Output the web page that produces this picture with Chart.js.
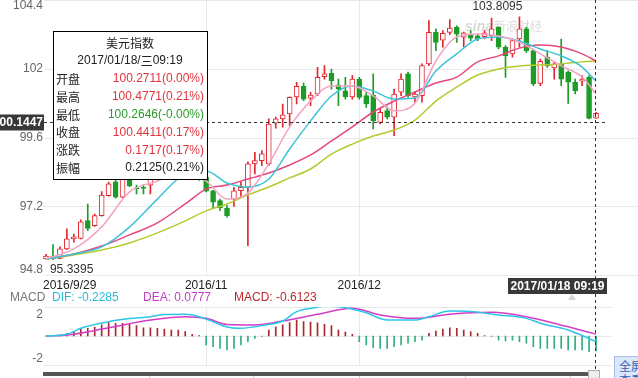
<!DOCTYPE html>
<html><head><meta charset="utf-8">
<script src="https://cdn.jsdelivr.net/npm/chart.js@4/dist/chart.umd.min.js"></script>
<style>
html,body{margin:0;padding:0;background:#fff;width:638px;height:378px;overflow:hidden;}
#wrap{position:relative;width:638px;height:378px;}
#c1{position:absolute;left:0;top:0;}
#c2{position:absolute;left:0;top:290px;}
#fs{position:absolute;left:614px;top:356px;width:40px;height:30px;background:#dbe7fb;border:1px solid #a6c0ea;color:#3563b8;font:12px "Noto Sans CJK SC",sans-serif;line-height:14px;padding:2px 0 0 4px;box-sizing:border-box;}
</style></head>
<body><div id="wrap">
<canvas id="c1" width="638" height="300"></canvas>
<canvas id="c2" width="638" height="88"></canvas>
<div id="fs">全屏<br>查看</div>
</div>
<script>
const dates = ['2016/09/29','2016/09/30',
'2016/10/03','2016/10/04','2016/10/05','2016/10/06','2016/10/07','2016/10/10','2016/10/11','2016/10/12','2016/10/13','2016/10/14','2016/10/17','2016/10/18','2016/10/19','2016/10/20','2016/10/21','2016/10/24','2016/10/25','2016/10/26','2016/10/27','2016/10/28','2016/10/31',
'2016/11/01','2016/11/02','2016/11/03','2016/11/04','2016/11/07','2016/11/08','2016/11/09','2016/11/10','2016/11/11','2016/11/14','2016/11/15','2016/11/16','2016/11/17','2016/11/18','2016/11/21','2016/11/22','2016/11/23','2016/11/24','2016/11/25','2016/11/28','2016/11/29','2016/11/30',
'2016/12/01','2016/12/02','2016/12/05','2016/12/06','2016/12/07','2016/12/08','2016/12/09','2016/12/12','2016/12/13','2016/12/14','2016/12/15','2016/12/16','2016/12/19','2016/12/20','2016/12/21','2016/12/22','2016/12/23','2016/12/26','2016/12/27','2016/12/28','2016/12/29','2016/12/30',
'2017/01/02','2017/01/03','2017/01/04','2017/01/05','2017/01/06','2017/01/09','2017/01/10','2017/01/11','2017/01/12','2017/01/13','2017/01/16','2017/01/17','2017/01/18'];

const open  = [95.36,95.46,95.38,95.71,96.06,96.08,96.70,96.52,96.87,97.57,98.05,97.52,98.25,97.84,97.86,97.94,98.25,98.45,98.70,98.60,98.75,98.50,98.30,98.22,97.74,97.40,97.14,97.45,97.74,97.86,98.68,98.79,98.68,100.10,100.25,100.42,101.02,101.39,100.97,101.12,101.72,101.84,101.44,101.23,101.02,101.64,101.06,101.08,100.13,100.54,100.31,101.18,101.82,101.02,101.06,102.17,103.27,103.00,103.27,103.45,103.10,103.19,103.15,103.12,103.15,103.45,102.75,102.52,103.04,103.39,102.63,101.49,102.40,102.03,102.17,101.88,101.53,101.57,101.70,100.2711];
const high  = [95.52,95.86,95.78,96.41,96.23,96.73,97.28,96.93,97.71,98.04,98.12,98.40,98.30,97.94,97.95,98.40,98.55,98.80,98.85,98.90,98.80,98.60,98.45,98.43,97.76,97.45,97.22,97.86,98.04,98.75,99.08,99.14,100.25,100.31,100.77,101.02,101.53,101.50,101.18,102.05,102.11,101.99,101.64,101.70,101.76,101.70,101.18,101.82,100.60,100.67,101.29,101.82,101.88,101.19,102.17,103.68,103.39,103.33,103.72,103.50,103.28,103.33,103.20,103.33,103.77,103.46,102.81,103.04,103.8095,103.45,102.69,102.34,102.63,102.23,103.04,101.93,101.64,101.76,101.76,100.4771];
const low   = [95.35,95.3395,95.36,95.68,95.95,96.06,96.35,96.50,96.85,97.55,97.48,97.50,97.88,97.63,97.63,97.63,98.15,98.35,98.50,98.50,98.40,98.20,98.10,97.70,97.14,97.05,96.82,97.19,97.51,95.82,98.33,98.62,98.62,99.93,99.96,100.01,100.77,100.89,100.71,101.06,101.64,101.29,100.71,100.94,100.94,100.94,100.65,99.90,100.07,100.25,99.66,101.06,101.00,100.83,100.83,102.11,102.63,102.75,103.19,102.92,102.76,102.98,102.98,103.04,102.98,102.69,101.70,102.40,102.75,102.57,101.41,101.41,102.05,101.64,101.41,100.79,101.12,101.41,100.25,100.2646];
const close = [95.46,95.37,95.71,96.06,96.13,96.66,96.43,96.87,97.59,97.98,97.52,98.30,97.91,97.81,97.82,98.25,98.45,98.70,98.60,98.75,98.50,98.30,98.22,97.73,97.34,97.14,96.87,97.74,97.86,98.68,98.79,99.03,100.07,100.25,100.39,101.00,101.39,100.94,101.08,101.70,101.82,101.58,101.29,101.02,101.64,101.00,100.77,100.19,100.48,100.31,101.12,101.64,101.06,101.12,102.11,103.27,102.92,103.24,103.42,103.21,103.25,103.07,103.04,103.25,103.39,102.75,102.46,102.98,103.39,102.63,101.47,102.26,102.11,102.17,101.64,101.53,101.23,101.64,100.2694,100.4411];

const maIdx = [0,4,8,12,16,20,23,26,29,32,35,38,41,44,47,50,53,56,59,62,65,68,71,74,77,79];
const ma5  = [95.36,95.71,96.48,97.70,98.08,98.43,98.08,97.45,97.66,98.68,99.97,100.87,101.40,101.40,101.05,100.53,100.80,102.27,103.11,103.21,103.14,102.93,102.52,102.10,101.71,101.12];
const ma10 = [95.36,95.53,95.78,96.47,97.45,98.33,98.43,98.01,97.87,98.15,99.20,100.18,101.05,101.40,101.22,100.94,100.98,101.92,102.52,103.04,103.11,102.97,102.69,102.45,102.06,101.57];
const ma20 = [95.36,95.53,95.81,96.20,96.62,97.28,97.80,97.94,98.15,98.36,98.64,98.99,99.48,99.97,100.49,100.87,101.19,101.50,101.71,102.24,102.45,102.72,102.83,102.76,102.52,102.27];
const ma30 = [95.36,95.50,95.67,95.92,96.27,96.69,97.04,97.28,97.60,97.87,98.19,98.50,99.02,99.37,99.65,99.86,100.21,100.87,101.36,101.78,101.99,102.10,102.13,102.17,102.24,102.27];

const difIdx = [0,3,5,9,12,15,17,20,22,24,26,28,31,34,36,39,40,43,46,49,53,55,58,61,65,69,71,75,79];
const dif = [0,0.07,0.32,0.59,0.72,0.80,0.89,0.90,0.80,0.59,0.37,0.32,0.43,0.62,1.01,1.19,1.24,1.17,0.96,0.66,0.66,0.80,1.03,1.01,0.87,0.73,0.53,0.25,-0.2285];
const deaIdx = [0,3,9,15,20,23,26,30,34,39,44,48,53,58,64,69,75,79];
const dea = [0,0.04,0.34,0.66,0.80,0.73,0.48,0.46,0.62,0.90,1.15,0.87,0.73,0.90,0.98,0.80,0.38,0.0777];
const macdHist = [0,0.02,0.05,0.11,0.18,0.28,0.32,0.36,0.46,0.56,0.52,0.52,0.48,0.43,0.34,0.34,0.32,0.29,0.25,0.25,0.18,0.07,0.02,
-0.37,-0.44,-0.51,-0.58,-0.51,-0.37,-0.23,-0.10,-0.02,
0.25,0.38,0.46,0.56,0.66,0.60,0.58,0.55,0.48,0.43,0.25,0.16,0.07,
-0.23,-0.37,-0.48,-0.51,-0.51,-0.44,-0.37,-0.30,-0.23,-0.17,
0.11,0.20,0.29,0.34,0.32,0.25,0.18,0.11,0.02,-0.02,
-0.17,-0.20,-0.17,-0.23,-0.30,-0.44,-0.51,-0.51,-0.51,-0.51,-0.58,-0.58,-0.58,-0.65,-0.6123];

const yTicks = [104.4, 102, 99.6, 97.2, 94.8];
const macdRange = [-1.2, 1.2];
const macdTickLabels = ['2', '-2'];
const xTickDates = ['2016/09/29', '2016/11/01', '2016/12/01'];
const xTickText = ['2016/9/29', '2016/11', '2016/12'];
const crossValue = 100.1447;
const crossTime = '2017/01/18 09:19';
const tipTitle = '美元指数';
const tipDate = '2017/01/18/三09:19';
const tipLabels = ['开盘','最高','最低','收盘','涨跌','振幅'];
const tipValues = ['100.2711(0.00%)','100.4771(0.21%)','100.2646(-0.00%)','100.4411(0.17%)','0.1717(0.17%)','0.2125(0.21%)'];
const macdLegend = {dif: 'DIF: -0.2285', dea: 'DEA: 0.0777', macd: 'MACD: -0.6123'};

const RED = '#e3262e', GREEN = '#1c9c26';
const FONT = '"Liberation Sans", Arial, sans-serif';
const CJK = '"Noto Sans CJK SC", sans-serif';

const up = dates.map((d, i) => close[i] >= open[i]);
const pts = (idx, vals) => idx.map((k, j) => ({x: dates[k], y: vals[j]}));
const lineDs = (data, color, width) => ({type: 'line', data, borderColor: color, borderWidth: width, pointRadius: 0, cubicInterpolationMode: 'monotone', fill: false, order: 0, spanGaps: true});

const xIdx = xTickDates.map(d => dates.indexOf(d));

const mainPlugin = {
  id: 'mainDeco',
  beforeDatasetsDraw(chart) {
    const {ctx, scales: {x, y}} = chart;
    ctx.save();
    ctx.strokeStyle = '#e8e8e8'; ctx.lineWidth = 1;
    ctx.beginPath();
    yTicks.forEach(v => { const py = Math.round(y.getPixelForValue(v)) + 0.5; ctx.moveTo(44, py); ctx.lineTo(638, py); });
    xIdx.slice(1).forEach(i => { const px = Math.round(x.getPixelForValue(i)) + 0.5; ctx.moveTo(px, 0); ctx.lineTo(px, y.bottom); });
    ctx.stroke();
    ctx.fillStyle = 'rgba(0,0,0,0.16)';
    ctx.font = 'italic bold 14px ' + FONT; ctx.textBaseline = 'middle'; ctx.textAlign = 'left';
    ctx.fillText('sina', 465, 27);
    ctx.font = '12px ' + CJK;
    ctx.fillText('新浪财经', 494, 26);
    ctx.restore();
  },
  afterDraw(chart) {
    const {ctx, scales: {x, y}} = chart;
    ctx.save();
    ctx.textBaseline = 'middle';
    ctx.font = '12px ' + FONT; ctx.fillStyle = '#666'; ctx.textAlign = 'right';
    yTicks.forEach((v, k) => {
      let py = y.getPixelForValue(v);
      if (k === 0) py += 6; else if (k === yTicks.length - 1) py -= 5;
      ctx.fillText(String(v), 43, py);
    });
    ctx.fillStyle = '#222';
    xIdx.forEach((i, k) => {
      const px = x.getPixelForValue(i);
      if (k === 0) { ctx.textAlign = 'left'; ctx.fillText(xTickText[k], px - 3, 286); }
      else { ctx.textAlign = 'center'; ctx.fillText(xTickText[k], px, 286); }
    });
    const hi = Math.max(...high), lo = Math.min(...low);
    const hiI = high.indexOf(hi), loI = low.indexOf(lo);
    ctx.fillStyle = '#333';
    ctx.textAlign = 'right'; ctx.fillText(hi.toFixed(4), x.getPixelForValue(hiI) + 3, 7);
    ctx.textAlign = 'left'; ctx.fillText(lo.toFixed(4), x.getPixelForValue(loI) - 3, 270);
    const cy = Math.round(y.getPixelForValue(crossValue)) + 0.5;
    const cx = Math.round(x.getPixelForValue(dates.length - 1)) - 0.5;
    ctx.strokeStyle = '#333'; ctx.lineWidth = 1; ctx.setLineDash([3, 3]);
    ctx.beginPath(); ctx.moveTo(44, cy); ctx.lineTo(606, cy); ctx.stroke();
    ctx.beginPath(); ctx.moveTo(cx, 0); ctx.lineTo(cx, 300); ctx.stroke();
    ctx.setLineDash([]);
    ctx.fillStyle = '#383838'; ctx.fillRect(0, cy - 8, 44, 16);
    ctx.fillStyle = '#fff'; ctx.font = 'bold 12px ' + FONT; ctx.textAlign = 'right';
    ctx.fillText(crossValue.toFixed(4), 43, cy);
    ctx.fillStyle = '#383838'; ctx.fillRect(508, 278, 99, 16);
    ctx.fillStyle = '#fff'; ctx.textAlign = 'center';
    ctx.fillText(crossTime, 557.5, 286.5);
    ctx.fillStyle = '#fff'; ctx.fillRect(53, 31, 154, 149);
    ctx.strokeStyle = '#000'; ctx.strokeRect(53.5, 31.5, 154, 148);
    ctx.fillStyle = '#222'; ctx.font = '12px ' + CJK; ctx.textAlign = 'center';
    ctx.fillText(tipTitle, 130, 43.5);
    const dParts = tipDate.split('三');
    ctx.font = '12px ' + FONT;
    const w1 = ctx.measureText(dParts[0]).width, w3 = ctx.measureText(dParts[1]).width;
    ctx.font = '12px ' + CJK; const w2 = ctx.measureText('三').width;
    const sx = 130 - (w1 + w2 + w3) / 2;
    ctx.textAlign = 'left';
    ctx.font = '12px ' + FONT; ctx.fillText(dParts[0], sx, 61);
    ctx.font = '12px ' + CJK; ctx.fillText('三', sx + w1, 61);
    ctx.font = '12px ' + FONT; ctx.fillText(dParts[1], sx + w1 + w2, 61);
    const rowY = [79, 97, 115, 132.5, 150.5, 168];
    const rowC = ['#e0343b', '#e0343b', '#2a9a2a', '#e0343b', '#e0343b', '#222'];
    tipLabels.forEach((t, k) => {
      ctx.font = '12px ' + CJK; ctx.fillStyle = '#222'; ctx.textAlign = 'left';
      ctx.fillText(t, 56, rowY[k]);
      ctx.font = '12px ' + FONT; ctx.fillStyle = rowC[k]; ctx.textAlign = 'right';
      ctx.fillText(tipValues[k], 204, rowY[k]);
    });
    ctx.restore();
  }
};

new Chart(document.getElementById('c1'), {
  type: 'bar',
  data: {
    labels: dates,
    datasets: [
      lineDs(pts(maIdx, ma5), '#f5a3c5', 1.5),
      lineDs(pts(maIdx, ma10), '#3cc5d8', 1.5),
      lineDs(pts(maIdx, ma20), '#e6467d', 1.5),
      lineDs(pts(maIdx, ma30), '#b4ca2e', 1.5),
      {type: 'bar', data: dates.map((d, i) => [open[i], close[i]]),
       backgroundColor: up.map(u => u ? '#ffffff' : GREEN), borderColor: up.map(u => u ? RED : GREEN),
       borderWidth: 1, borderSkipped: false, barThickness: 5, grouped: false, minBarLength: 1, order: 1},
      {type: 'bar', data: dates.map((d, i) => [low[i], high[i]]),
       backgroundColor: up.map(u => u ? RED : GREEN), barThickness: 1, grouped: false, order: 2}
    ]
  },
  options: {
    responsive: false, animation: false, events: [],
    plugins: {legend: {display: false}, tooltip: {enabled: false}},
    layout: {padding: {left: 42.5, right: 38.5, top: 0, bottom: 25}},
    scales: {
      x: {display: false, offset: true},
      y: {display: false, min: yTicks[yTicks.length - 1], max: yTicks[0]}
    }
  },
  plugins: [mainPlugin]
});

const macdPlugin = {
  id: 'macdDeco',
  beforeDatasetsDraw(chart) {
    const {ctx, scales: {x, y}} = chart;
    ctx.save();
    ctx.strokeStyle = '#e8e8e8'; ctx.lineWidth = 1;
    ctx.beginPath();
    [macdRange[1], 0, macdRange[0]].forEach(v => { const py = Math.round(y.getPixelForValue(v)) + 0.5; ctx.moveTo(44, py); ctx.lineTo(612, py); });
    xIdx.slice(1).forEach(i => { const px = Math.round(x.getPixelForValue(i)) + 0.5; ctx.moveTo(px, y.top); ctx.lineTo(px, y.bottom); });
    ctx.stroke();
    ctx.restore();
  },
  afterDraw(chart) {
    const {ctx, scales: {x, y}} = chart;
    ctx.save();
    ctx.textBaseline = 'middle';
    ctx.font = '12px ' + FONT; ctx.fillStyle = '#666'; ctx.textAlign = 'right';
    ctx.fillText(macdTickLabels[0], 43, y.top + 8);
    ctx.fillText(macdTickLabels[1], 43, y.bottom - 6);
    ctx.textAlign = 'left';
    ctx.fillStyle = '#777'; ctx.fillText('MACD', 10, 8);
    ctx.fillStyle = '#28bcd9'; ctx.fillText(macdLegend.dif, 52, 8);
    ctx.fillStyle = '#c23cc4'; ctx.fillText(macdLegend.dea, 143, 8);
    ctx.fillStyle = '#bf2a2f'; ctx.fillText(macdLegend.macd, 234, 8);
    ctx.fillStyle = '#d6d6d6';
    ctx.beginPath(); ctx.moveTo(568, 10); ctx.lineTo(576, 10); ctx.lineTo(572, 4); ctx.fill();
    const cx = Math.round(x.getPixelForValue(dates.length - 1)) - 0.5;
    ctx.strokeStyle = '#333'; ctx.setLineDash([3, 3]);
    ctx.beginPath(); ctx.moveTo(cx, 4); ctx.lineTo(cx, 88); ctx.stroke();
    ctx.setLineDash([]);
    ctx.fillStyle = '#555'; ctx.fillRect(43, 82, 557, 4);
    ctx.fillStyle = '#ccc';
    [149, 253, 359, 465, 570].forEach(px => ctx.fillRect(px, 86, 1, 2));
    ctx.fillStyle = '#eee'; ctx.fillRect(588, 80, 12, 8);
    ctx.strokeStyle = '#aaa'; ctx.strokeRect(588.5, 80.5, 11, 8);
    ctx.restore();
  }
};

new Chart(document.getElementById('c2'), {
  type: 'bar',
  data: {
    labels: dates,
    datasets: [
      lineDs(pts(difIdx, dif), '#2cc6e6', 1.5),
      lineDs(pts(deaIdx, dea), '#d43cc9', 1.5),
      {type: 'bar', data: macdHist, backgroundColor: macdHist.map(v => v >= 0 ? '#a8282d' : '#2fae7c'),
       barThickness: 1, grouped: false, order: 1}
    ]
  },
  options: {
    responsive: false, animation: false, events: [],
    plugins: {legend: {display: false}, tooltip: {enabled: false}},
    layout: {padding: {left: 42.5, right: 38.5, top: 17, bottom: 13}},
    scales: {
      x: {display: false, offset: true},
      y: {display: false, min: macdRange[0], max: macdRange[1]}
    }
  },
  plugins: [macdPlugin]
});
</script>
</body></html>
